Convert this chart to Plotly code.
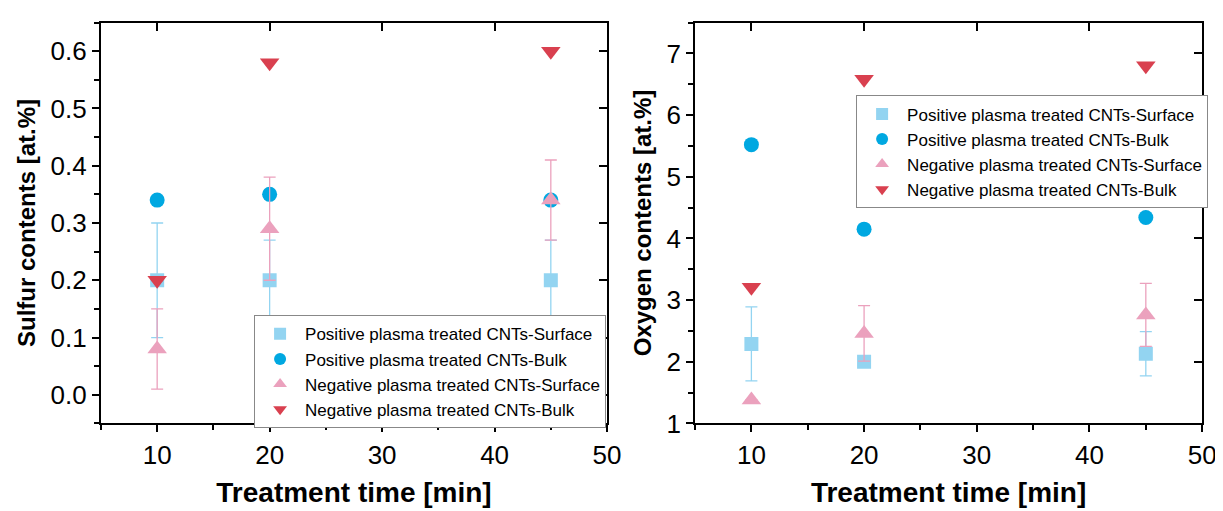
import plotly.graph_objects as go

# ---------------- data ----------------
time_min = [10, 20, 45]

series_names = [
    "Positive plasma treated CNTs-Surface",
    "Positive plasma treated CNTs-Bulk",
    "Negative plasma treated CNTs-Surface",
    "Negative plasma treated CNTs-Bulk",
]

# Sulfur contents [at.%]
s_pos_surface = [0.20, 0.20, 0.20]
s_pos_surface_err = [0.10, 0.07, 0.07]
s_pos_bulk = [0.34, 0.35, 0.34]
s_neg_surface = [0.08, 0.29, 0.34]
s_neg_surface_err = [0.07, 0.09, 0.07]
s_neg_bulk = [0.20, 0.58, 0.60]

# Oxygen contents [at.%]
o_pos_surface = [2.29, 2.00, 2.13]
o_pos_surface_err = [0.60, 0.0, 0.36]
o_pos_bulk = [5.52, 4.15, 4.34]
o_neg_surface = [1.38, 2.46, 2.76]
o_neg_surface_err = [0.0, 0.45, 0.51]
o_neg_bulk = [3.21, 6.58, 6.80]

x_ticks = [10, 20, 30, 40, 50]
s_ticks = [0.0, 0.1, 0.2, 0.3, 0.4, 0.5, 0.6]
o_ticks = [1, 2, 3, 4, 5, 6, 7]

# ---------------- styles ----------------
colors = ["#93D4F1", "#00A8E1", "#EBA1BD", "#D9404F"]
symbols = ["square", "circle", "triangle-up", "triangle-down"]
sizes = [14, 15, 17, 17]
FONT = "Liberation Sans, Arial, sans-serif"

fig = go.Figure()


def add_series(xa, ya, vals, errs, idx, show):
    err = None
    if errs is not None:
        err = dict(type="data", array=errs, visible=True, color=colors[idx],
                   thickness=1.3, width=6)
    fig.add_trace(go.Scatter(
        x=time_min, y=vals, mode="markers", name=series_names[idx],
        xaxis=xa, yaxis=ya, showlegend=True,
        legend="legend" if show == 1 else "legend2",
        marker=dict(symbol=symbols[idx], size=sizes[idx], color=colors[idx],
                    line=dict(width=0)),
        error_y=err,
    ))


# left panel (sulfur)
add_series("x", "y", s_pos_surface, s_pos_surface_err, 0, 1)
add_series("x", "y", s_pos_bulk, None, 1, 1)
add_series("x", "y", s_neg_surface, s_neg_surface_err, 2, 1)
add_series("x", "y", s_neg_bulk, None, 3, 1)
# right panel (oxygen)
add_series("x2", "y2", o_pos_surface, o_pos_surface_err, 0, 2)
add_series("x2", "y2", o_pos_bulk, None, 1, 2)
add_series("x2", "y2", o_neg_surface, o_neg_surface_err, 2, 2)
add_series("x2", "y2", o_neg_bulk, None, 3, 2)

# invisible carriers so the mirrored (inward-tick) frame axes are drawn
for xa, ya, vals in (("x3", "y3", s_pos_bulk), ("x4", "y4", o_pos_bulk)):
    fig.add_trace(go.Scatter(x=time_min, y=vals, mode="markers", xaxis=xa, yaxis=ya,
                             marker=dict(opacity=0), showlegend=False, hoverinfo="skip"))

W, H = 1223, 511
L_dom = [94 / W, 606 / W]
R_dom = [695 / W, 1208 / W]
Y_dom = [1 - 428 / H, 1 - 15 / H]

tickfont = dict(family=FONT, size=26, color="black")
xtitlefont = dict(family=FONT, size=28, color="black")
ytitlefont = dict(family=FONT, size=24, color="black")

x_minor = [5, 15, 25, 35, 45]
s_minor = [-0.05, 0.05, 0.15, 0.25, 0.35, 0.45, 0.55, 0.65]
o_minor = [1.5, 2.5, 3.5, 4.5, 5.5, 6.5, 7.5]


def xaxis(dom, anchor, title):
    return dict(domain=dom, anchor=anchor, range=[5, 50], tickvals=x_ticks,
                ticks="outside", ticklen=7, tickwidth=1.5, tickcolor="black",
                showline=True, linecolor="black", linewidth=2, mirror=True,
                showgrid=False, zeroline=False, tickfont=tickfont,
                minor=dict(tickvals=x_minor, ticks="outside",
                           ticklen=5, tickwidth=1.5, tickcolor="black", showgrid=False),
                title=dict(text="<b>" + title + "</b>", font=xtitlefont, standoff=14))


def yaxis(dom, anchor, rng, tv, fmt, title, minors):
    return dict(domain=dom, anchor=anchor, range=rng, tickvals=tv, tickformat=fmt,
                ticks="outside", ticklen=7, tickwidth=1.5, tickcolor="black",
                showline=True, linecolor="black", linewidth=2, mirror=True,
                showgrid=False, zeroline=False, tickfont=tickfont,
                minor=dict(tickvals=minors, ticks="outside", ticklen=5,
                           tickwidth=1.5, tickcolor="black", showgrid=False),
                title=dict(text="<b>" + title + "</b>", font=ytitlefont, standoff=8))


def mirror_x(over, anchor):
    return dict(overlaying=over, anchor=anchor, side="top",
                range=[5, 50], tickvals=x_ticks, ticks="inside", ticklen=8,
                tickwidth=2, tickcolor="black", showticklabels=False,
                showline=False, showgrid=False, zeroline=False)


def mirror_y(over, anchor, rng, tv):
    return dict(overlaying=over, anchor=anchor, side="right",
                range=rng, tickvals=tv, ticks="inside", ticklen=8,
                tickwidth=2, tickcolor="black", showticklabels=False,
                showline=False, showgrid=False, zeroline=False)


legend_common = dict(font=dict(family=FONT, size=17, color="black"),
                     bgcolor="white", bordercolor="#888888", borderwidth=1,
                     tracegroupgap=0, itemsizing="constant", itemwidth=40)

fig.update_layout(
    width=W, height=H,
    margin=dict(l=0, r=0, t=0, b=0),
    paper_bgcolor="white", plot_bgcolor="white",
    xaxis=xaxis(L_dom, "y", "Treatment time [min]"),
    yaxis=yaxis(Y_dom, "x", [-0.05, 0.65], s_ticks, ".1f", "Sulfur contents [at.%]", s_minor),
    xaxis2=xaxis(R_dom, "y2", "Treatment time [min]"),
    yaxis2=yaxis(Y_dom, "x2", [1, 7.5], o_ticks, "d", "Oxygen contents [at.%]", o_minor),
    xaxis3=mirror_x("x", "y"),
    yaxis3=mirror_y("y", "x", [-0.05, 0.65], s_ticks),
    xaxis4=mirror_x("x2", "y2"),
    yaxis4=mirror_y("y2", "x2", [1, 7.5], o_ticks),
    legend=dict(x=605 / W, y=1 - 433 / H, xanchor="right", yanchor="bottom",
                **legend_common),
    legend2=dict(x=1214 / W, y=1 - 90 / H, xanchor="right", yanchor="top",
                 **legend_common),
    showlegend=True,
)

fig.write_html("out.html")
